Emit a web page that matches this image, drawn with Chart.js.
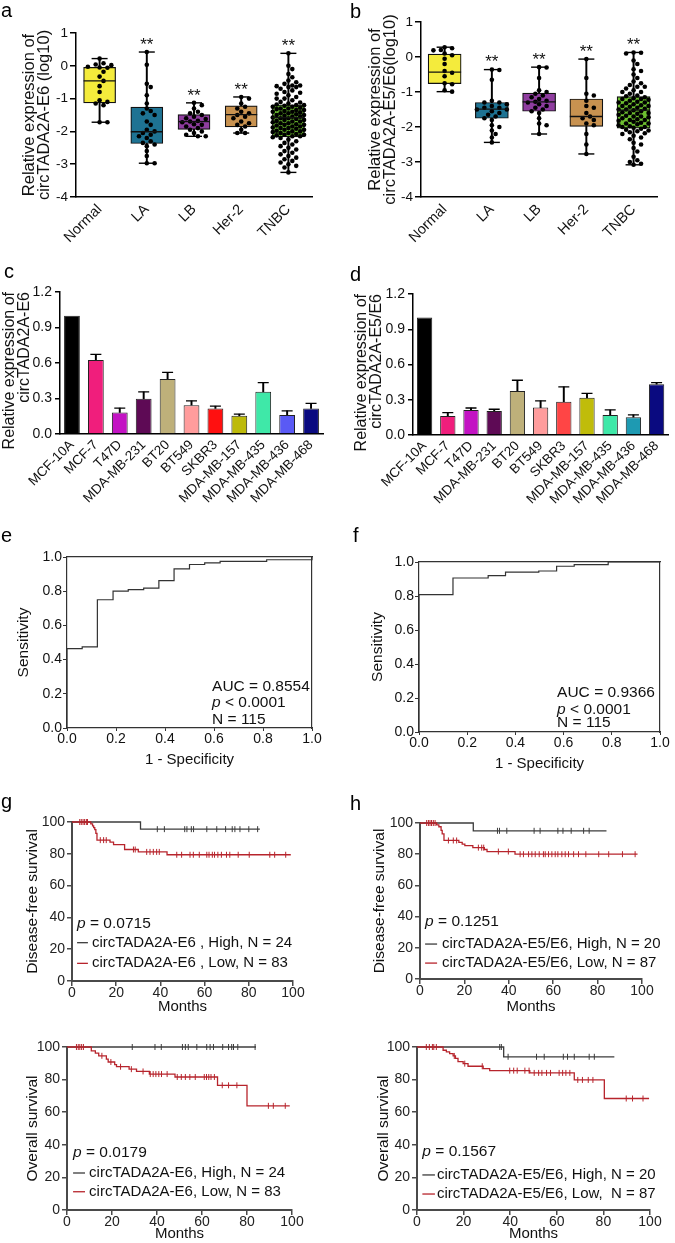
<!DOCTYPE html>
<html>
<head>
<meta charset="utf-8">
<title>circTADA2A expression figure</title>
<script src="https://cdn.jsdelivr.net/npm/chart.js@4.4.1/dist/chart.umd.min.js"></script>
<style>
  html, body { margin:0; padding:0; background:#fff; }
  #page { position:relative; width:675px; height:1243px; overflow:hidden; background:#fff;
          font-family:'Liberation Sans', Arial, Helvetica, sans-serif; }
  canvas { position:absolute; }
  .pl { position:absolute; font-size:20px; line-height:20px; color:#000; }
</style>
</head>
<body>
<div id="page">
  <canvas id="ca" width="335" height="250" style="left:0;top:0"></canvas>
  <canvas id="cb" width="340" height="250" style="left:335px;top:0"></canvas>
  <canvas id="cc" width="335" height="280" style="left:0;top:250px"></canvas>
  <canvas id="cd" width="340" height="280" style="left:335px;top:250px"></canvas>
  <canvas id="ce" width="335" height="260" style="left:0;top:530px"></canvas>
  <canvas id="cf" width="340" height="260" style="left:335px;top:530px"></canvas>
  <canvas id="cg1" width="335" height="235" style="left:0;top:790px"></canvas>
  <canvas id="ch1" width="340" height="235" style="left:335px;top:790px"></canvas>
  <canvas id="cg2" width="335" height="223" style="left:0;top:1020px"></canvas>
  <canvas id="ch2" width="340" height="223" style="left:335px;top:1020px"></canvas>
  <div class="pl" style="left:1px;top:0px">a</div>
  <div class="pl" style="left:350px;top:1px">b</div>
  <div class="pl" style="left:4px;top:261px">c</div>
  <div class="pl" style="left:350px;top:264px">d</div>
  <div class="pl" style="left:1px;top:525px">e</div>
  <div class="pl" style="left:353px;top:525px">f</div>
  <div class="pl" style="left:1px;top:791px">g</div>
  <div class="pl" style="left:350px;top:793px">h</div>
</div>
<script>
// ======================= DATA =======================
const subtypes = ['Normal', 'LA', 'LB', 'Her-2', 'TNBC'];

// panel a : circTADA2A-E6 (log10), individual samples
const aNormal = [0.22, 0.08, 0.04, 0.02, -0.03, -0.05, -0.06, -0.18, -0.33, -0.46, -0.62, -0.8, -1.05, -1.1, -1.15, -1.2, -1.72, -1.72];
const aLA = [0.42, 0.03, -0.55, -0.65, -0.9, -1.15, -1.3, -1.38, -1.45, -1.5, -1.7, -1.8, -1.95, -2.0, -2.05, -2.1, -2.15, -2.2, -2.3, -2.35, -2.4, -2.45, -2.6, -2.75, -2.97, -2.97];
const aLB = [-1.13, -1.2, -1.3, -1.4, -1.45, -1.5, -1.55, -1.6, -1.62, -1.68, -1.7, -1.72, -1.78, -1.8, -1.85, -1.9, -1.95, -2.0, -2.05, -2.1, -2.15, -2.15];
const aHer2 = [-0.95, -1.0, -1.15, -1.25, -1.3, -1.4, -1.45, -1.5, -1.55, -1.6, -1.7, -1.75, -1.8, -1.85, -1.95, -2.05, -2.05];
const aTNBC = [0.38, 0.0, -0.1, -0.25, -0.35, -0.45, -0.5, -0.55, -0.6, -0.6, -0.62, -0.65, -0.65, -0.7, -0.75, -0.8, -0.82, -0.85, -0.9, -0.95, -1.0, -1.0, -1.05,
  -1.1, -1.12, -1.15, -1.18, -1.2, -1.2, -1.22, -1.25, -1.25, -1.28, -1.3, -1.3, -1.32, -1.35, -1.35, -1.38, -1.4, -1.4, -1.42, -1.45, -1.45, -1.48, -1.5, -1.5, -1.52,
  -1.55, -1.55, -1.58, -1.6, -1.6, -1.62, -1.65, -1.65, -1.68, -1.7, -1.7, -1.72, -1.75, -1.75, -1.78, -1.8, -1.8, -1.82, -1.85, -1.85, -1.88, -1.9, -1.9, -1.92,
  -1.95, -1.95, -1.98, -2.0, -2.0, -2.02, -2.05, -2.05, -2.08, -2.1, -2.1, -2.12, -2.15, -2.15, -2.18, -2.2,
  -2.25, -2.3, -2.35, -2.4, -2.45, -2.5, -2.55, -2.6, -2.65, -2.7, -2.75, -2.8, -2.85, -2.9, -2.95, -3.0, -3.05, -3.1, -3.25];
const aWhiskerLow  = [-1.72, -2.97, -2.15, -2.05, -3.25];
const aQ1          = [-1.13, -2.37, -1.94, -1.86, -2.17];
const aMedian      = [-0.46, -2.01, -1.70, -1.49, -1.58];
const aQ3          = [-0.05, -1.26, -1.49, -1.22, -1.19];
const aWhiskerHigh = [0.22, 0.42, -1.13, -0.95, 0.38];
const aSig = ['', '**', '**', '**', '**'];

// panel b : circTADA2A-E5/E6 (log10)
const bNormal = [0.28, 0.25, 0.2, 0.19, 0.1, 0.05, -0.05, -0.2, -0.4, -0.45, -0.55, -0.75, -0.78, -0.95, -0.99];
const bLA = [-0.36, -0.37, -0.65, -1.25, -1.3, -1.3, -1.35, -1.4, -1.45, -1.45, -1.5, -1.5, -1.55, -1.6, -1.65, -1.7, -1.75, -1.8, -1.95, -2.0, -2.1, -2.2, -2.3, -2.44];
const bLB = [-0.29, -0.3, -0.6, -0.95, -1.0, -1.05, -1.1, -1.15, -1.2, -1.25, -1.28, -1.3, -1.35, -1.4, -1.45, -1.5, -1.55, -1.6, -1.75, -1.9, -1.95, -2.2];
const bHer2 = [-0.06, -0.6, -1.05, -1.1, -1.25, -1.4, -1.45, -1.6, -1.7, -1.75, -1.8, -1.9, -1.95, -2.2, -2.5, -2.77];
const bTNBC = [0.13, 0.12, 0.1, -0.1, -0.2, -0.35, -0.4, -0.5, -0.6, -0.7, -0.75, -0.8, -0.85, -0.85, -0.9, -0.95, -1.0, -1.0, -1.05, -1.1,
  -1.12, -1.15, -1.18, -1.2, -1.2, -1.22, -1.25, -1.28, -1.3, -1.3, -1.32, -1.35, -1.38, -1.4, -1.4, -1.42, -1.45, -1.48, -1.5, -1.5, -1.52, -1.55,
  -1.58, -1.6, -1.6, -1.62, -1.65, -1.68, -1.7, -1.7, -1.72, -1.75, -1.78, -1.8, -1.8, -1.82, -1.85, -1.88, -1.9, -1.9, -1.92, -1.95, -1.98, -2.0,
  -2.0, -2.02, -2.05, -2.08, -2.1, -2.12, -2.15, -2.18, -2.2,
  -2.25, -2.3, -2.35, -2.45, -2.5, -2.6, -2.7, -2.85, -2.95, -3.0, -3.05, -3.08];
const bWhiskerLow  = [-0.99, -2.44, -2.2, -2.77, -3.08];
const bQ1          = [-0.76, -1.75, -1.55, -1.98, -2.03];
const bMedian      = [-0.43, -1.49, -1.28, -1.70, -1.52];
const bQ3          = [0.08, -1.30, -1.03, -1.20, -1.13];
const bWhiskerHigh = [0.28, -0.36, -0.29, -0.06, 0.13];
const bSig = ['', '**', '**', '**', '**'];

// panels c, d : cell lines
const cellLines = ['MCF-10A', 'MCF-7', 'T47D', 'MDA-MB-231', 'BT20', 'BT549', 'SKBR3', 'MDA-MB-157', 'MDA-MB-435', 'MDA-MB-436', 'MDA-MB-468'];
const cMean = [1.0, 0.625, 0.182, 0.297, 0.465, 0.244, 0.216, 0.154, 0.356, 0.16, 0.216];
const cSD   = [0, 0.048, 0.037, 0.059, 0.056, 0.036, 0.019, 0.014, 0.079, 0.036, 0.042];
const dMean = [1.0, 0.162, 0.213, 0.205, 0.375, 0.233, 0.284, 0.316, 0.171, 0.151, 0.432];
const dSD   = [0, 0.028, 0.017, 0.014, 0.091, 0.057, 0.126, 0.039, 0.042, 0.02, 0.014];

// panels e, f : ROC curves
const eFpr = [0, 0, 0.062, 0.124, 0.188, 0.25, 0.313, 0.375, 0.437, 0.5, 0.562, 0.625, 0.815, 1.0, 1.0];
const eTpr = [0, 0.464, 0.474, 0.75, 0.80, 0.809, 0.818, 0.862, 0.931, 0.956, 0.966, 0.975, 0.984, 0.984, 1.0];
const fFpr = [0, 0, 0.141, 0.287, 0.359, 0.497, 0.571, 0.644, 0.785, 1.0];
const fTpr = [0, 0.808, 0.906, 0.92, 0.94, 0.947, 0.975, 0.984, 1.0, 1.0];
const eStats = ['AUC = 0.8554', ' < 0.0001', 'N = 115'];
const fStats = ['AUC = 0.9366', ' < 0.0001', 'N = 115'];

// panels g, h : Kaplan-Meier (months, % survival)
const gDfsHighT = [0, 31, 85];
const gDfsHighS = [100, 95.5, 95.5];
const gDfsHighCens = [38.6, 41.8, 51, 52, 54, 55, 61, 65.5, 69.5, 72.5, 73.7, 76, 80, 84];
const gDfsLowT = [0, 8.5, 9.3, 9.8, 10.3, 10.8, 11.3, 17.2, 18.8, 23.8, 30, 43, 99];
const gDfsLowS = [100, 98.8, 97.6, 96.4, 95.2, 92.8, 88.6, 87.3, 85.8, 82.7, 81.2, 79.4, 79.4];
const gDfsLowCens = [3.5, 4.2, 5, 5.7, 6.5, 7, 12.8, 14.3, 15.5, 27.8, 28.6, 33.8, 35.3, 36.8, 38.3, 39.5, 47.4, 49.6, 53.4, 54.9, 57.6,
  61, 62, 63.5, 64.5, 66, 67.6, 69.9, 71.4, 75.2, 80.2, 89.5, 91.7, 96.7];

const hDfsHighT = [0, 24, 84];
const hDfsHighS = [100, 95, 95];
const hDfsHighCens = [34.9, 35.8, 39.1, 51.4, 54.1, 62.1, 64.4, 68.1, 73.7, 76.2];
const hDfsLowT = [0, 7.5, 8.5, 9.5, 10, 10.8, 17.5, 19, 20.2, 23.8, 29, 30.2, 42.8, 98];
const hDfsLowS = [100, 98.8, 97.6, 95.3, 93, 88.8, 87.6, 86.4, 85.5, 84.2, 83, 81.7, 80, 80];
const hDfsLowCens = [3, 3.8, 4.5, 5.2, 6, 6.8, 12.8, 15, 16.5, 26.3, 27.8, 28.7, 35.3, 39.8, 45.1, 46.6, 48.9, 50.4, 51.9, 53.7, 55.6,
  56.4, 57.9, 59.4, 60.9, 62.1, 63.9, 65.4, 66.9, 69.2, 71.4, 74.7, 80.5, 85, 91.2, 96.9];

const gOsHighT = [0, 84];
const gOsHighS = [100, 100];
const gOsHighCens = [29, 39.1, 41.9, 51.3, 52.6, 53.9, 57.7, 62.1, 63.6, 65.1, 69.2, 71.8, 73.2, 74, 75.9, 83.6];
const gOsLowT = [0, 10.8, 12.6, 14.1, 17.5, 18.3, 21.2, 22, 27.6, 30.9, 36.6, 48, 66.9, 80, 99];
const gOsLowS = [100, 97.6, 96.2, 94.6, 92.6, 90.8, 89.2, 87.9, 86.4, 85, 83.4, 81.6, 76.5, 63.9, 63.9];
const gOsLowCens = [4.2, 5, 5.7, 6.5, 7.3, 15.5, 19.5, 23.8, 28.6, 33.8, 37, 38.3, 39.5, 40.8, 42, 44.5, 49, 50.8, 52.6, 54.6, 57,
  61, 62, 63, 64, 65.5, 69, 71.8, 75.5, 89.5, 91.7, 97];

const hOsHighT = [0, 37.2, 84.7];
const hOsHighS = [100, 94, 94];
const hOsHighCens = [35.5, 36.2, 39.1, 51.3, 54.6, 62.8, 64.6, 67.5, 73.9, 76.1];
const hOsLowT = [0, 11.2, 12.6, 14, 15.5, 16.5, 17.6, 19.8, 21.9, 28.4, 31.2, 48.4, 67.5, 80.4, 99.6];
const hOsLowS = [100, 98, 97, 95.9, 94.5, 93, 91, 89.8, 88.2, 86.7, 85.5, 84.1, 79.8, 68.4, 68.4];
const hOsLowCens = [4, 5.3, 6.6, 7.2, 8.3, 16, 20.5, 28, 39.8, 41.5, 43, 46.3, 48.1, 50.3, 52.2, 53.6, 55.6, 57.3, 61, 62.5, 63.9,
  65.6, 69, 71, 73.5, 75.5, 89.8, 92.5, 97];

const gDfsLabels = ['circTADA2A-E6 , High, N = 24', 'circTADA2A-E6 , Low, N = 83'];
const hDfsLabels = ['circTADA2A-E5/E6, High, N = 20', 'circTADA2A-E5/E6, Low, N = 87'];
const gOsLabels = ['circTADA2A-E6, High, N = 24', 'circTADA2A-E6, Low, N = 83'];
const hOsLabels = ['circTADA2A-E5/E6, High, N = 20', 'circTADA2A-E5/E6, Low,  N = 87'];
const pValues = ['0.0715', '0.1251', '0.0179', '0.1567'];

// ======================= STYLE =======================
const FF = "'Liberation Sans', Arial, Helvetica, sans-serif";
const subtypeColors = ['#F4EB3C', '#1E7393', '#8F3D9F', '#C89250', '#6DBF30'];
const cColors = ['#000000', '#F01E7C', '#C313C3', '#5E0A55', '#BEB07A', '#FF9C9C', '#FF1010', '#BDBA0A', '#3FE8A8', '#5A5AF5', '#0A0A80'];
const dColors = ['#000000', '#F01E7C', '#C313C3', '#5E0A55', '#BEB07A', '#FF9C9C', '#FF4545', '#C0BC0A', '#3FE8A8', '#1E9AB2', '#0A0A80'];
const KM_RED = '#B7242C', KM_GRAY = '#3c3c3c';

Chart.defaults.font.family = FF;
Chart.defaults.color = '#111';
Chart.defaults.animation = false;
Chart.defaults.plugins.legend.display = false;
Chart.defaults.plugins.tooltip.enabled = false;

// text annotations drawn through the chart scales
const TEXTS = {};
const textPlugin = {
  id: 'txt',
  afterDatasetsDraw(chart) {
    const items = TEXTS[chart.canvas.id];
    if (!items) return;
    const ctx = chart.ctx, xs = chart.scales.x, ys = chart.scales.y;
    ctx.save();
    items.forEach(it => {
      const py = ys.getPixelForValue(it.y) + (it.dy || 0);
      let px = xs.getPixelForValue(it.x) + (it.dx || 0);
      if (it.line) {
        ctx.strokeStyle = it.line.color; ctx.lineWidth = it.line.width || 1.3;
        ctx.beginPath();
        ctx.moveTo(xs.getPixelForValue(it.line.x0), py);
        ctx.lineTo(xs.getPixelForValue(it.line.x1), py);
        ctx.stroke();
      }
      const size = it.size || 15;
      const parts = it.parts || [{ t: it.text }];
      ctx.fillStyle = it.color || '#111';
      ctx.textBaseline = it.baseline || 'alphabetic';
      ctx.textAlign = 'left';
      if (it.align === 'center') {
        let w = 0;
        parts.forEach(p => { ctx.font = (p.italic ? 'italic ' : '') + size + 'px ' + FF; w += ctx.measureText(p.t).width; });
        px -= w / 2;
      }
      parts.forEach(p => {
        ctx.font = (p.italic ? 'italic ' : '') + size + 'px ' + FF;
        ctx.fillText(p.t, px, py);
        px += ctx.measureText(p.t).width;
      });
    });
    ctx.restore();
  }
};
Chart.register(textPlugin);

// deterministic beeswarm layout for the scatter dots
function swarmOffsets(vals, pxX, pxY, diam, maxOff) {
  const placed = [], out = [];
  const step = (diam * 0.85) / pxX;
  const cands = [0];
  for (let k = 1; k * step <= maxOff + 1e-9; k++) cands.push(k * step, -k * step);
  for (const v of vals) {
    let best = 0, bestD = -1;
    for (const c of cands) {
      let m = Infinity;
      for (const p of placed) {
        const d = Math.hypot((p.x - c) * pxX, (p.y - v) * pxY);
        if (d < m) m = d;
      }
      if (m >= diam) { best = c; break; }
      if (m > bestD) { bestD = m; best = c; }
    }
    placed.push({ x: best, y: v });
    out.push(best);
  }
  return out;
}

function makeBox(id, groups, lo, q1, med, q3, hi, sig, titleLines, L) {
  const idx = subtypes.map((_, i) => i);
  const dots = [];
  groups.forEach((g, i) => {
    const offs = swarmOffsets(g, L.pxX, L.pxY, L.dotD, L.maxOff);
    g.forEach((v, k) => dots.push({ x: i + offs[k], y: v }));
  });
  TEXTS[id] = idx.filter(i => sig[i]).map(i => ({ x: i, y: hi[i], dy: -7, text: sig[i], align: 'center', baseline: 'middle', size: 17 }));
  new Chart(document.getElementById(id), {
    type: 'bar',
    data: { datasets: [
      { type: 'bar', data: idx.map(i => ({ x: i, y: [lo[i], hi[i]] })), backgroundColor: '#000', barThickness: 1.3, grouped: false, order: 5 },
      { type: 'bar', data: idx.map(i => ({ x: i, y: [q1[i], q3[i]] })), backgroundColor: subtypeColors, borderColor: '#111',
        borderWidth: 1.2, borderSkipped: false, barThickness: L.boxW, grouped: false, order: 4 },
      { type: 'scatter', data: idx.flatMap(i => [{ x: i, y: lo[i] }, { x: i, y: hi[i] }]), pointStyle: 'line', pointRadius: 8,
        pointBorderColor: '#000', pointBorderWidth: 1.4, order: 3, clip: false },
      { type: 'scatter', data: dots, pointRadius: L.dotD / 2, pointBackgroundColor: '#000', pointBorderWidth: 0, order: 2, clip: false },
      { type: 'scatter', data: idx.map(i => ({ x: i, y: med[i] })), pointStyle: 'line', pointRadius: L.boxW / 2,
        pointBorderColor: '#111', pointBorderWidth: 1.3, order: 1, clip: false }
    ] },
    options: {
      responsive: false, animation: false, devicePixelRatio: 1,
      layout: { padding: { top: L.padT, right: L.padR, bottom: 0, left: 0 } },
      scales: {
        x: { type: 'linear', min: -0.5, max: 4.5, offset: false,
          afterBuildTicks: s => { s.ticks = idx.map(i => ({ value: i })); },
          ticks: { autoSkip: false, minRotation: 45, maxRotation: 45, padding: 4, font: { size: 14.5 }, color: '#111',
            callback: v => subtypes[v] !== undefined ? subtypes[v] : '' },
          grid: { drawOnChartArea: false, drawTicks: false },
          border: { display: true, color: '#000', width: 1.5 },
          afterFit: s => { s.height = L.xH; } },
        y: { min: -4, max: 1,
          ticks: { stepSize: 1, padding: 2, font: { size: 13.5 }, color: '#111' },
          grid: { drawOnChartArea: false, drawTicks: true, tickLength: 6, color: '#000', lineWidth: 1.5 },
          border: { display: true, color: '#000', width: 1.5 },
          title: { display: true, text: titleLines, color: '#111', font: { size: 16.5, lineHeight: 0.92 },
            padding: { top: L.titlePad, bottom: 0 } },
          afterFit: s => { s.width = L.yW; } }
      }
    }
  });
}

function makeBars(id, means, sds, colors, titleLines, L) {
  new Chart(document.getElementById(id), {
    type: 'bar',
    data: { labels: cellLines, datasets: [
      { data: means.map((m, i) => sds[i] > 0 ? [m, m + sds[i]] : null), backgroundColor: '#000', barThickness: 1.3, grouped: false, order: 3 },
      { data: means, backgroundColor: colors, borderColor: '#222', borderWidth: 1, grouped: false,
        barPercentage: 0.66, categoryPercentage: 1, order: 2 },
      { type: 'line', data: means.map((m, i) => sds[i] > 0 ? m + sds[i] : null), showLine: false, pointStyle: 'line',
        pointRadius: 5.5, pointBorderColor: '#000', pointBorderWidth: 1.3, order: 1 }
    ] },
    options: {
      responsive: false, animation: false, devicePixelRatio: 1,
      layout: { padding: { top: L.padT, right: L.padR, bottom: 0, left: 0 } },
      scales: {
        x: { ticks: { autoSkip: false, minRotation: 45, maxRotation: 45, padding: 3, font: { size: 13.5 }, color: '#111' },
          grid: { drawOnChartArea: false, drawTicks: false },
          border: { display: true, color: '#000', width: 1.5 },
          afterFit: s => { s.height = L.xH; } },
        y: { min: 0, max: 1.2,
          ticks: { stepSize: 0.3, padding: 3, font: { size: 14 }, color: '#111', callback: v => v.toFixed(1) },
          grid: { drawOnChartArea: false, drawTicks: true, tickLength: 5, color: '#000', lineWidth: 1.5 },
          border: { display: true, color: '#000', width: 1.5 },
          title: { display: true, text: titleLines, align: 'end', color: '#111', font: { size: 16, lineHeight: 0.94 },
            padding: { top: L.titlePad, bottom: 0 } },
          afterFit: s => { s.width = L.yW; } }
      }
    }
  });
}

function makeRoc(id, fpr, tpr, stats, L) {
  TEXTS[id] = [
    { x: L.tx, y: L.ty[0], text: stats[0], size: 15.5 },
    { x: L.tx, y: L.ty[1], parts: [{ t: 'p', italic: true }, { t: stats[1] }], size: 15.5 },
    { x: L.tx, y: L.ty[2], text: stats[2], size: 15.5 }
  ];
  const AX = '#333';
  new Chart(document.getElementById(id), {
    type: 'scatter',
    data: { datasets: [
      { type: 'line', data: fpr.map((x, i) => ({ x, y: tpr[i] })), stepped: 'before', borderColor: '#333', borderWidth: 1.2,
        pointRadius: 0, fill: false, clip: false }
    ] },
    options: {
      responsive: false, animation: false, devicePixelRatio: 1,
      layout: { padding: { top: L.padT, right: L.padR, bottom: 0, left: 0 } },
      scales: {
        x: { type: 'linear', min: 0, max: 1,
          ticks: { stepSize: 0.2, padding: L.xTickPad, font: { size: 14 }, color: '#111', callback: v => v.toFixed(1) },
          grid: { drawOnChartArea: false, drawTicks: true, tickLength: 3, color: AX, lineWidth: 1 },
          border: { display: true, color: AX, width: 1.2 },
          title: { display: true, text: '1 - Specificity', color: '#111', font: { size: 15 }, padding: { top: 0, bottom: L.xTitlePad } },
          afterFit: s => { s.height = L.xH; } },
        y: { min: 0, max: 1,
          ticks: { stepSize: 0.2, padding: 1, font: { size: 14 }, color: '#111', callback: v => v.toFixed(1) },
          grid: { drawOnChartArea: false, drawTicks: true, tickLength: 4, color: AX, lineWidth: 1 },
          border: { display: true, color: AX, width: 1.2 },
          title: { display: true, text: 'Sensitivity', color: '#111', font: { size: 15.5, lineHeight: 1.2 }, padding: { top: L.titlePad, bottom: 0 } },
          afterFit: s => { s.width = L.yW; } },
        x2: { type: 'linear', position: 'top', min: 0, max: 1, ticks: { display: false },
          grid: { drawOnChartArea: false, drawTicks: false }, border: { display: true, color: AX, width: 1.2 },
          afterFit: s => { s.height = 0; } },
        y2: { type: 'linear', position: 'right', min: 0, max: 1, ticks: { display: false },
          grid: { drawOnChartArea: false, drawTicks: false }, border: { display: true, color: AX, width: 1.2 },
          afterFit: s => { s.width = 0; } }
      }
    }
  });
}

function stepValue(T, S, t) {
  let v = S[0];
  for (let i = 0; i < T.length; i++) if (T[i] <= t) v = S[i];
  return v;
}

function makeKM(id, yTitle, hiT, hiS, hiC, loT, loS, loC, labels, pVal, L) {
  TEXTS[id] = [
    { x: L.lx0, y: L.ys[0], parts: [{ t: 'p', italic: true }, { t: ' = ' + pVal }], baseline: 'middle', size: 15.5 },
    { x: L.tx, y: L.ys[1], text: labels[0], baseline: 'middle', size: 15, line: { x0: L.lx0, x1: L.lx1, color: KM_GRAY } },
    { x: L.tx, y: L.ys[2], text: labels[1], baseline: 'middle', size: 15, line: { x0: L.lx0, x1: L.lx1, color: KM_RED } }
  ];
  const AX = '#4a4a4a';
  const curve = (T, S, col, label, order) => ({ type: 'line', label, data: T.map((t, i) => ({ x: t, y: S[i] })), stepped: 'before',
    borderColor: col, borderWidth: 1.3, pointRadius: 0, fill: false, clip: false, order });
  const cens = (C, T, S, col, order) => ({ type: 'scatter', data: C.map(t => ({ x: t, y: stepValue(T, S, t) })),
    pointStyle: 'line', pointRotation: 90, pointRadius: 3, pointBorderColor: col, pointBorderWidth: 1, clip: false, order });
  new Chart(document.getElementById(id), {
    type: 'scatter',
    data: { datasets: [
      curve(hiT, hiS, KM_GRAY, labels[0], 4),
      curve(loT, loS, KM_RED, labels[1], 3),
      cens(hiC, hiT, hiS, KM_GRAY, 2),
      cens(loC, loT, loS, KM_RED, 1)
    ] },
    options: {
      responsive: false, animation: false, devicePixelRatio: 1,
      layout: { padding: { top: L.padT, right: L.padR, bottom: 0, left: 0 } },
      scales: {
        x: { type: 'linear', min: 0, max: 100,
          ticks: { stepSize: 20, padding: -1, font: { size: 14 }, color: '#222' },
          grid: { drawOnChartArea: false, drawTicks: true, tickLength: 5, color: AX, lineWidth: 1.5 },
          border: { display: true, color: AX, width: 2 },
          title: { display: true, text: 'Months', color: '#111', font: { size: 15 }, padding: { top: 0, bottom: L.mPad } },
          afterFit: s => { s.height = L.xH; } },
        y: { min: 0, max: 100,
          ticks: { stepSize: 20, padding: 2, font: { size: 14 }, color: '#222' },
          grid: { drawOnChartArea: false, drawTicks: true, tickLength: 5, color: AX, lineWidth: 1.5 },
          border: { display: true, color: AX, width: 2 },
          title: { display: true, text: yTitle, color: '#111', font: { size: 15.5, lineHeight: 1.2 }, padding: { top: L.titlePad, bottom: 0 } },
          afterFit: s => { s.width = L.yW; } }
      }
    }
  });
}

// ======================= BUILD =======================
makeBox('ca', [aNormal, aLA, aLB, aHer2, aTNBC], aWhiskerLow, aQ1, aMedian, aQ3, aWhiskerHigh, aSig,
  ['Relative expression of', 'circTADA2A-E6 (log10)'],
  { padT: 33, padR: 23, yW: 76, xH: 53, titlePad: 21.5, boxW: 32, pxX: 47.2, pxY: 32.8, dotD: 4.6, maxOff: 0.36 });
makeBox('cb', [bNormal, bLA, bLB, bHer2, bTNBC], bWhiskerLow, bQ1, bMedian, bQ3, bWhiskerHigh, bSig,
  ['Relative expression of', 'circTADA2A-E5/E6(log10)'],
  { padT: 22, padR: 7, yW: 86, xH: 53, titlePad: 32.5, boxW: 33, pxX: 49.4, pxY: 35, dotD: 4.6, maxOff: 0.36 });

makeBars('cc', cMean, cSD, cColors, ['Relative expression of', 'circTADA2A-E6'],
  { padT: 42, padR: 12, yW: 60, xH: 96, titlePad: 2.5 });
makeBars('cd', dMean, dSD, dColors, ['Relative expression of', 'circTADA2A-E5/E6'],
  { padT: 44, padR: 0, yW: 78, xH: 95, titlePad: 19.5 });

makeRoc('ce', eFpr, eTpr, eStats,
  { padT: 27, padR: 23, yW: 67, xH: 62, titlePad: 14, xTickPad: 0, xTitlePad: 21, tx: 0.592, ty: [0.218, 0.125, 0.022] });
makeRoc('cf', fFpr, fTpr, fStats,
  { padT: 32, padR: 15, yW: 84, xH: 58, titlePad: 33, xTickPad: 0, xTitlePad: 17, tx: 0.573, ty: [0.208, 0.106, 0.031] });

makeKM('cg1', 'Disease-free survival', gDfsHighT, gDfsHighS, gDfsHighCens, gDfsLowT, gDfsLowS, gDfsLowCens, gDfsLabels, pValues[0],
  { padT: 32, padR: 42, yW: 72, xH: 44, titlePad: 23.5, mPad: 9, lx0: 2.3, lx1: 7.2, tx: 9, ys: [36.3, 24.1, 11.1] });
makeKM('ch1', 'Disease-free survival', hDfsHighT, hDfsHighS, hDfsHighCens, hDfsLowT, hDfsLowS, hDfsLowCens, hDfsLabels, pValues[1],
  { padT: 33, padR: 33, yW: 85, xH: 46, titlePad: 35.5, mPad: 9, lx0: 2.3, lx1: 7.7, tx: 9.9, ys: [36.7, 22.4, 10.2] });
makeKM('cg2', 'Overall survival', gOsHighT, gOsHighS, gOsHighCens, gOsLowT, gOsLowS, gOsLowCens, gOsLabels, pValues[2],
  { padT: 27, padR: 43, yW: 67, xH: 33, titlePad: 23.5, mPad: 0, lx0: 2.7, lx1: 8, tx: 9.8, ys: [35, 22.7, 11.2] });
makeKM('ch2', 'Overall survival', hOsHighT, hOsHighS, hOsHighCens, hOsLowT, hOsLowS, hOsLowCens, hOsLabels, pValues[3],
  { padT: 27, padR: 25, yW: 82, xH: 33, titlePad: 39, mPad: 0, lx0: 2.3, lx1: 7.7, tx: 8.6, ys: [35.8, 21.5, 9.8] });
</script>
</body>
</html>
